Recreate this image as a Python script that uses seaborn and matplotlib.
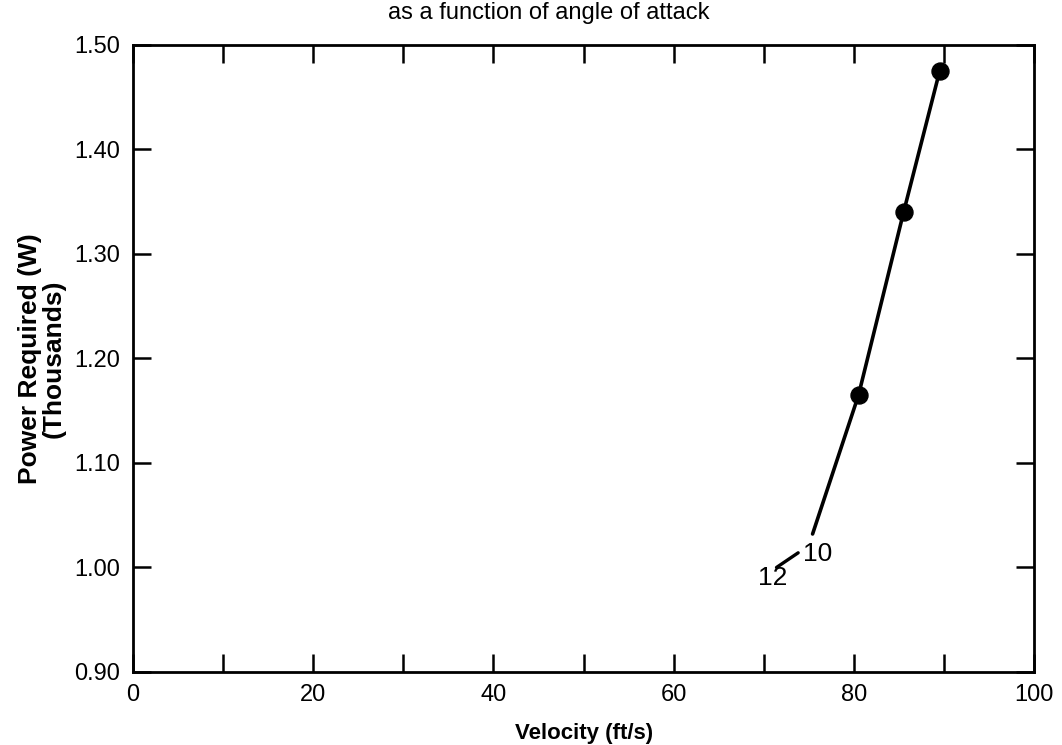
import numpy as np
import pandas as pd
import matplotlib
matplotlib.use("Agg")
import matplotlib.pyplot as plt
from matplotlib.ticker import MultipleLocator, FormatStrFormatter
import seaborn as sns

# curve: power required vs velocity (angle of attack 10 deg onwards)
velocity = [75.4, 80.5, 85.5, 89.5]
power = [1.032, 1.165, 1.340, 1.475]
# only the last three points carry a marker
marker_velocity = [80.5, 85.5, 89.5]
marker_power = [1.165, 1.340, 1.475]

# angle of attack labels
aoa_labels = ["10", "12"]
aoa_x = [76.0, 71.0]
aoa_y = [1.013, 0.990]
# short leader between the two labels
leader_x = [71.4, 73.8]
leader_y = [1.000, 1.014]

sns.set_style("ticks")
plt.rcParams['font.family'] = ['Liberation Sans', 'DejaVu Sans']
plt.rcParams['text.color'] = 'black'
plt.rcParams['axes.labelcolor'] = 'black'
plt.rcParams['xtick.color'] = 'black'
plt.rcParams['ytick.color'] = 'black'

fig = plt.figure(figsize=(10.62, 7.45), dpi=100)
ax = fig.add_axes([0.125, 0.098, 0.849, 0.842])

df = pd.DataFrame({'v': velocity, 'p': power})
sns.lineplot(data=df, x='v', y='p', color='black', linewidth=2.6, ax=ax)
sns.scatterplot(x=marker_velocity, y=marker_power, color='black', s=150,
                edgecolor='black', zorder=3, ax=ax)
ax.plot(leader_x, leader_y, color='black', linewidth=2.4)
for lab, x, y in zip(aoa_labels, aoa_x, aoa_y):
    ax.text(x, y, lab, fontsize=19, ha='center', va='center')

ax.set_xlim(0, 100)
ax.set_ylim(0.90, 1.50)
ax.xaxis.set_major_locator(MultipleLocator(20))
ax.xaxis.set_minor_locator(MultipleLocator(10))
ax.yaxis.set_major_locator(MultipleLocator(0.1))
ax.yaxis.set_major_formatter(FormatStrFormatter('%.2f'))

ax.tick_params(which='both', direction='in', top=True, right=True,
               length=13, width=1.8, labelsize=17, pad=9, color='black',
               labelcolor='black')
for sp in ax.spines.values():
    sp.set_linewidth(2)
    sp.set_color('black')

ax.set_xlabel('Velocity (ft/s)', fontsize=16, fontweight='bold', labelpad=12)
ax.set_ylabel('Power Required (W)\n(Thousands)', fontsize=19,
              fontweight='bold', labelpad=6, linespacing=1.0)
fig.text(0.517, 0.982, 'as a function of angle of attack', fontsize=17,
         ha='center', va='center')

fig.savefig('out.png', dpi=100)
